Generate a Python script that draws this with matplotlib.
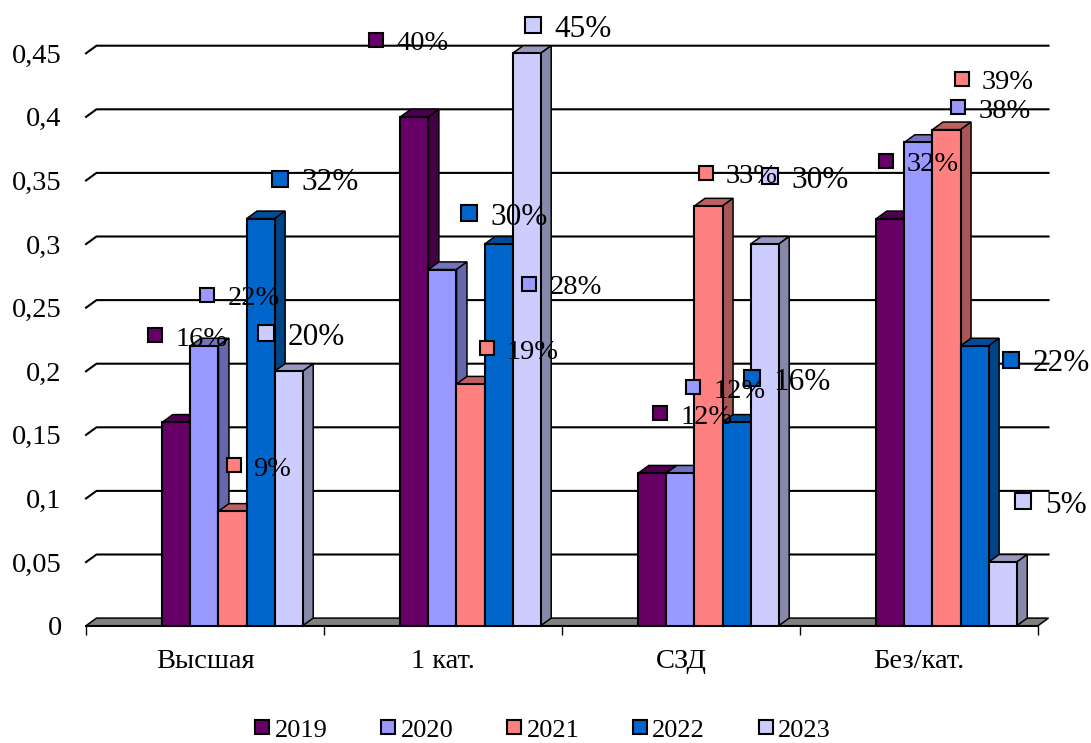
import matplotlib
matplotlib.use("Agg")
import matplotlib.pyplot as plt
from matplotlib.lines import Line2D
from matplotlib.patches import Polygon
from matplotlib.transforms import Affine2D

categories = ["Высшая", "1 кат.", "СЗД", "Без/кат."]
years = ["2019", "2020", "2021", "2022", "2023"]
y_ticks = [0, 0.05, 0.1, 0.15, 0.2, 0.25, 0.3, 0.35, 0.4, 0.45]
y_labels = ["0", "0,05", "0,1", "0,15", "0,2", "0,25", "0,3", "0,35", "0,4", "0,45"]

v2019 = [0.16, 0.40, 0.12, 0.32]
v2020 = [0.22, 0.28, 0.12, 0.38]
v2021 = [0.09, 0.19, 0.33, 0.39]
v2022 = [0.32, 0.30, 0.16, 0.22]
v2023 = [0.20, 0.45, 0.30, 0.05]
series = [v2019, v2020, v2021, v2022, v2023]

colors = ["#660066", "#9999ff", "#ff8080", "#0066cc", "#ccccff"]
tops = ["#4d004d", "#7373bf", "#bf6060", "#004c99", "#9999bf"]
sides = ["#440044", "#6666aa", "#aa5555", "#004488", "#8888aa"]

# where each label marker sits relative to its bar top (px, down is positive)
label_dx = [[-21, -38, 8, -4], [3, 87, 13, 40], [1, 16, -3, 15], [19, -30, 15, 36], [-23, 6, 5, 20]]
label_dy = [[-87, -77, -60, -58], [-51, 14, -86, -35], [-46, -36, -33, -51], [-40, -31, -44, 14], [-38, -28, -68, -61]]

W, H = 1091, 743
fig = plt.figure(figsize=(W / 100, H / 100), dpi=100)
plt.rcParams["font.family"] = ["Liberation Serif", "DejaVu Serif"]
ax = fig.add_axes([86 / W, 1 - 625.7 / H, (1038 - 86) / W, (625.7 - 53.3) / H])
ax.set_xlim(0, 4)
ax.set_ylim(0, 0.45)
ax.patch.set_visible(False)
for s in ["left", "right", "top"]:
    ax.spines[s].set_visible(False)
ax.spines["bottom"].set_linewidth(1.4)

# depth of the fake 3d box in data units
dx = 10.5 / 238
dy = 7.6 / (572.4 / 0.45)

for t in y_ticks[1:]:
    ax.plot([0, dx, 4 + dx], [t, t + dy, t + dy], color="black", lw=1.5, clip_on=False, zorder=1)
ax.add_patch(Polygon([(0, 0), (dx, dy), (4 + dx, dy), (4, 0)], closed=True, facecolor="#808080",
                     edgecolor="black", lw=1.1, clip_on=False, zorder=1.5))

bar_w = 28.08 / 238
start = 0.3206
z = 3
for j, vals in enumerate(series):
    for i, v in enumerate(vals):
        x0 = i + start + j * bar_w
        x1 = x0 + bar_w
        ax.bar(x0, v, width=bar_w, align="edge", color=colors[j], edgecolor="black", lw=1.5,
               clip_on=False, zorder=z + 0.2)
        ax.add_patch(Polygon([(x0, v), (x0 + dx, v + dy), (x1 + dx, v + dy), (x1, v)], closed=True,
                             facecolor=tops[j], edgecolor="black", lw=1.1, clip_on=False, zorder=z))
        ax.add_patch(Polygon([(x1, 0), (x1 + dx, dy), (x1 + dx, v + dy), (x1, v)], closed=True,
                             facecolor=sides[j], edgecolor="black", lw=1.1, clip_on=False, zorder=z))
        z += 1

for j, vals in enumerate(series):
    big = j >= 3
    for i, v in enumerate(vals):
        cx = i + start + (j + 0.5) * bar_w
        tr = ax.transData + Affine2D().translate(label_dx[j][i], -label_dy[j][i])
        ax.plot([cx], [v], marker="s", ms=12 if big else 10.5, mfc=colors[j], mec="black", mew=1.5,
                transform=tr, clip_on=False, zorder=200)
        tr2 = ax.transData + Affine2D().translate(label_dx[j][i] + (22 if big else 20), -label_dy[j][i] - 4)
        ax.text(cx, v, f"{round(v * 100)}%", transform=tr2, fontsize=22.5 if big else 20.5, ha="left",
                va="center", zorder=201, clip_on=False)

ax.set_yticks(y_ticks)
ax.set_yticklabels(y_labels, fontsize=20.5)
ax.tick_params(axis="y", length=0, pad=17.5)
ax.set_xticks(range(5))
ax.set_xticklabels([])
ax.tick_params(axis="x", which="major", length=6.5, width=1)
ax.set_xticks([0.5, 1.5, 2.5, 3.5], minor=True)
ax.set_xticklabels(categories, minor=True, fontsize=20.5)
ax.tick_params(axis="x", which="minor", length=0, pad=17)

handles = [Line2D([], [], linestyle="none", marker="s", ms=10.5, mfc=c, mec="black", mew=1.5) for c in colors]
fig.legend(handles, years, ncol=5, loc="lower center", bbox_to_anchor=(543 / W, 0.002), frameon=False,
           fontsize=19, handlelength=0.55, handletextpad=0.2, columnspacing=2.015, borderpad=0, borderaxespad=0)

fig.savefig("out.png", dpi=100)
